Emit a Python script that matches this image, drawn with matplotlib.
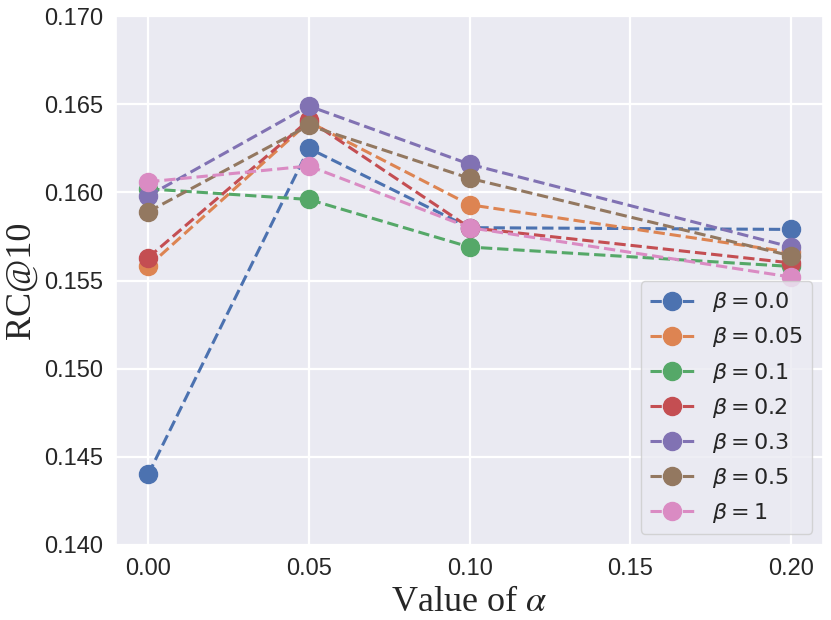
import matplotlib
matplotlib.use("Agg")
import matplotlib.pyplot as plt
import seaborn as sns

alphas = [0.0, 0.05, 0.10, 0.20]
beta_labels = ["0.0", "0.05", "0.1", "0.2", "0.3", "0.5", "1"]

rc_b00 = [0.1440, 0.1625, 0.1580, 0.1579]
rc_b005 = [0.1558, 0.1640, 0.1593, 0.1566]
rc_b01 = [0.1602, 0.1596, 0.1569, 0.1558]
rc_b02 = [0.1563, 0.1641, 0.1580, 0.1560]
rc_b03 = [0.1598, 0.1649, 0.1616, 0.1569]
rc_b05 = [0.1589, 0.1638, 0.1608, 0.1564]
rc_b1 = [0.1606, 0.1615, 0.1580, 0.1552]

series = [rc_b00, rc_b005, rc_b01, rc_b02, rc_b03, rc_b05, rc_b1]

sns.set_theme(style="darkgrid", palette="deep")
plt.rcParams["font.family"] = ["Liberation Sans", "DejaVu Sans"]
plt.rcParams["mathtext.fontset"] = "dejavusans"

fig = plt.figure(figsize=(8.31, 6.2), dpi=100)
ax = fig.add_axes([0.1396, 0.121, 0.8510, 0.853])

for vals, lab in zip(series, beta_labels):
    ax.plot(alphas, vals, linestyle="--", marker="o", markersize=13,
            linewidth=2.2, label=r"$\beta=%s$" % lab)

ax.set_ylim(0.140, 0.170)
ax.set_xticks([0.00, 0.05, 0.10, 0.15, 0.20])
ax.set_xticklabels(["0.00", "0.05", "0.10", "0.15", "0.20"])
ax.set_yticks([0.140, 0.145, 0.150, 0.155, 0.160, 0.165, 0.170])
ax.set_yticklabels(["0.140", "0.145", "0.150", "0.155", "0.160", "0.165", "0.170"])
ax.tick_params(labelsize=17, colors="#262626")
ax.grid(linewidth=1.6, color="white")

ax.set_xlabel(r"Value of $\alpha$", fontsize=26, family="Liberation Serif",
              math_fontfamily="stix")
ax.set_ylabel("RC@10", fontsize=26, family="Liberation Serif")

ax.legend(loc="lower right", fontsize=16, framealpha=0.8)

fig.savefig("out.png", dpi=100)
